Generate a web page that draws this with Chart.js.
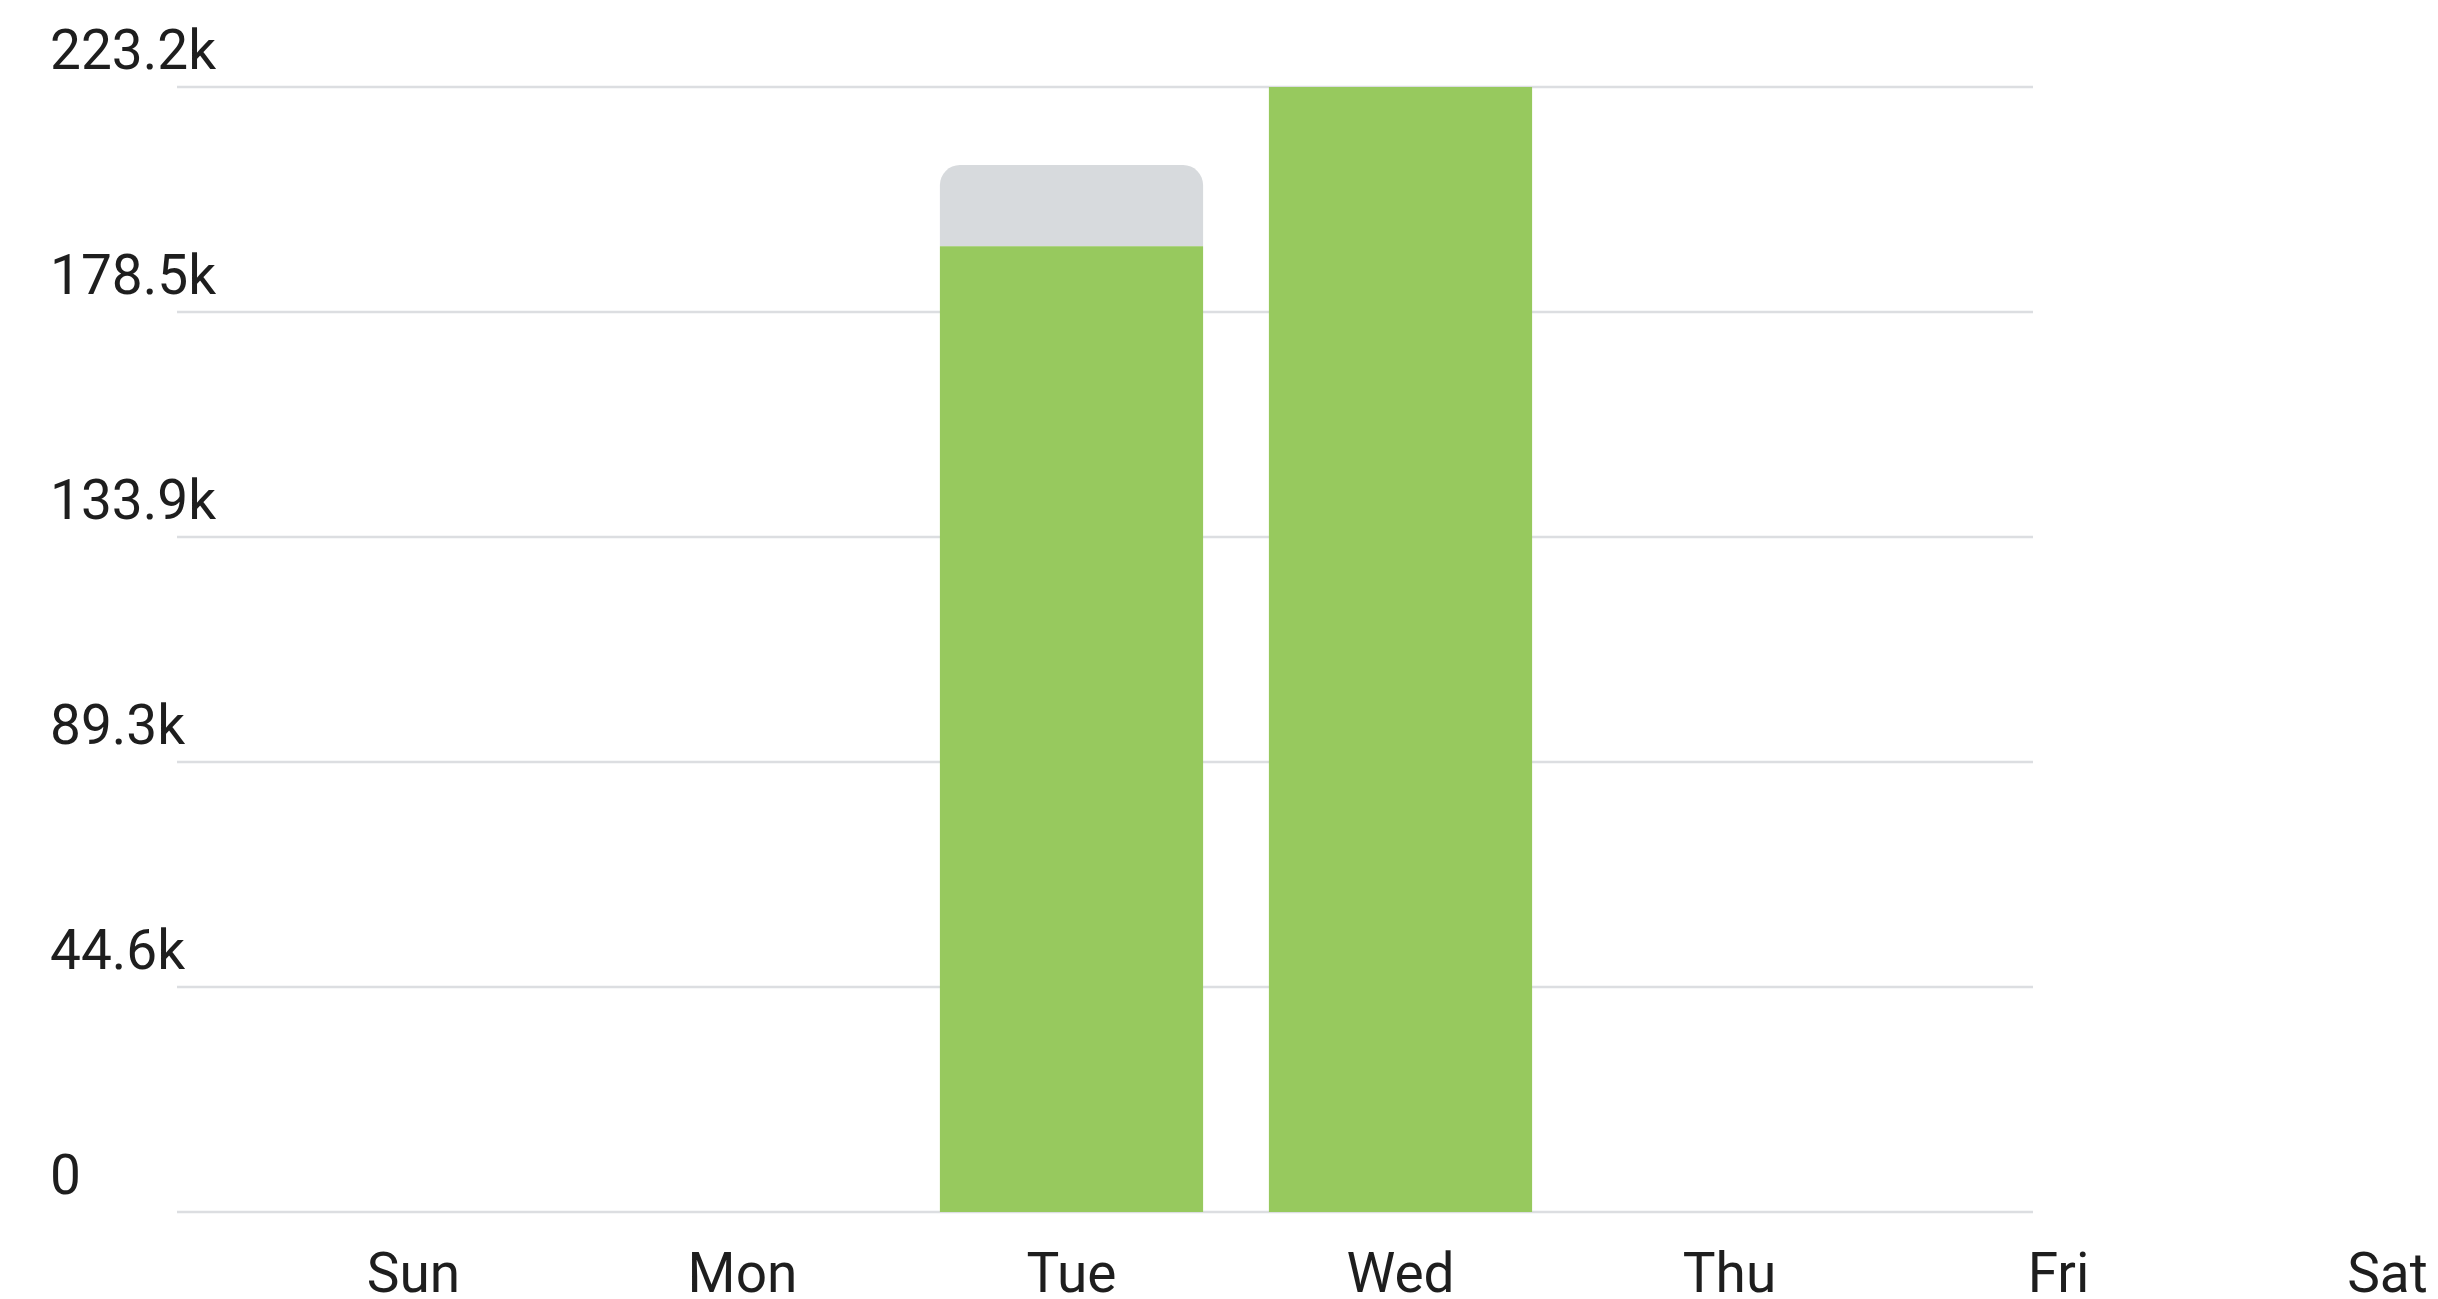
<!DOCTYPE html>
<html>
<head>
<meta charset="utf-8">
<script src="https://cdn.jsdelivr.net/npm/chart.js@4/dist/chart.umd.min.js"></script>
<style>
  html, body { margin: 0; padding: 0; background: #ffffff; overflow: hidden; }
  #wrap { position: relative; width: 2438px; height: 1299px; }
</style>
</head>
<body>
<div id="wrap"><canvas id="c"></canvas></div>
<script>
// ---- data ----
const categories = ['Sun', 'Mon', 'Tue', 'Wed', 'Thu', 'Fri', 'Sat'];
const primaryValues = [0, 0, 191600, 223180, 0, 0, 0];
const secondaryValues = [0, 0, 16100, 0, 0, 0, 0];
const yTickLabels = ['0', '44.6k', '89.3k', '133.9k', '178.5k', '223.2k'];
const yMax = 223180;

// ---- style ----
const GREEN = '#97c95e';
const GREY = '#d7dadd';
const GRID_COLOR = '#dcdee1';
const TEXT_COLOR = '#1e1e1e';
const GRID_LEFT = 177;
const GRID_RIGHT = 2033;

const gridPlugin = {
  id: 'customGrid',
  beforeDatasetsDraw(chart) {
    const y = chart.scales.y;
    const ctx = chart.ctx;
    ctx.save();
    ctx.strokeStyle = GRID_COLOR;
    ctx.lineWidth = 2.5;
    y.ticks.forEach(t => {
      const py = y.getPixelForValue(t.value);
      ctx.beginPath();
      ctx.moveTo(GRID_LEFT, py);
      ctx.lineTo(GRID_RIGHT, py);
      ctx.stroke();
    });
    ctx.restore();
  }
};

new Chart(document.getElementById('c'), {
  type: 'bar',
  data: {
    labels: categories,
    datasets: [
      {
        label: 'primary',
        data: primaryValues,
        backgroundColor: GREEN,
        borderWidth: 0,
        borderRadius: 0
      },
      {
        label: 'secondary',
        data: secondaryValues,
        backgroundColor: GREY,
        borderWidth: 0,
        borderRadius: { topLeft: 20, topRight: 20, bottomLeft: 0, bottomRight: 0 },
        borderSkipped: false
      }
    ]
  },
  options: {
    responsive: true,
    maintainAspectRatio: false,
    animation: false,
    events: [],
    layout: { padding: { top: 87, left: 50, right: 50.5, bottom: 0 } },
    categoryPercentage: 0.8,
    barPercentage: 1.0,
    plugins: { legend: { display: false }, tooltip: { enabled: false } },
    scales: {
      x: {
        stacked: true,
        offset: false,
        grid: { display: false, drawTicks: false, offset: false },
        border: { display: false },
        afterFit(scale) {
          scale.height = 87;
          scale.paddingLeft = 0;
          scale.paddingRight = 0;
        },
        ticks: {
          autoSkip: false,
          maxRotation: 0,
          minRotation: 0,
          padding: 39,
          color: TEXT_COLOR,
          font: { family: 'Roboto', size: 55, lineHeight: 1 }
        }
      },
      y: {
        stacked: true,
        min: 0,
        max: yMax,
        grid: { display: false, drawTicks: false },
        border: { display: false },
        afterFit(scale) { scale.width = 363.5; },
        ticks: {
          stepSize: yMax / 5,
          crossAlign: 'far',
          labelOffset: -32,
          padding: 0,
          color: TEXT_COLOR,
          font: { family: 'Roboto', size: 55, lineHeight: 1 },
          callback: (value, index) => yTickLabels[index]
        }
      }
    }
  },
  plugins: [gridPlugin]
});
</script>
</body>
</html>
